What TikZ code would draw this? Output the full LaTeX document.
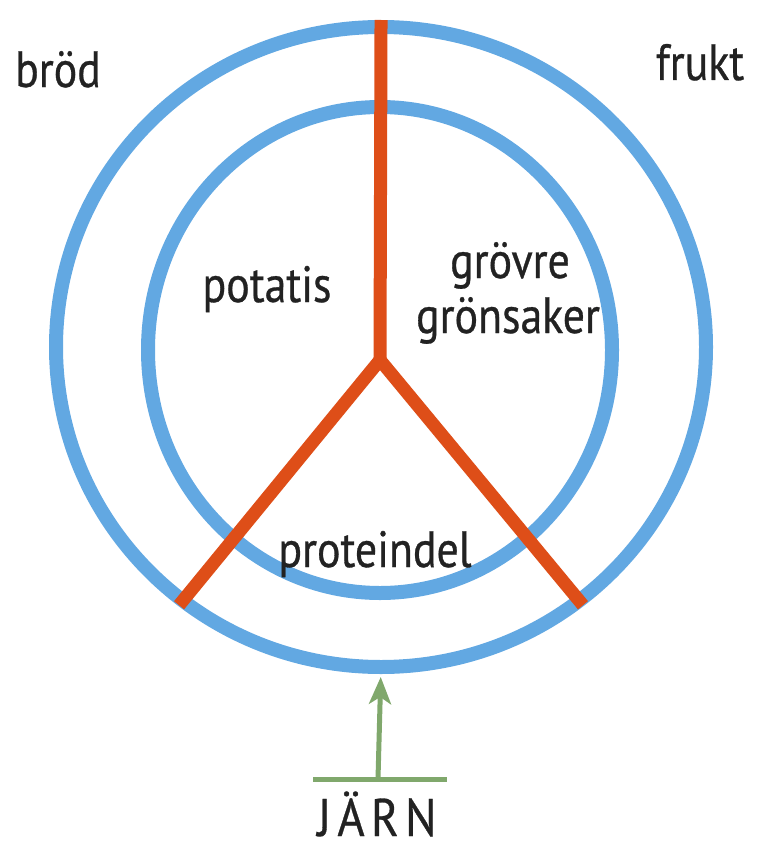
\documentclass[tikz,border=0pt]{standalone}
\usepackage{fontspec}
\setmainfont{PT Sans}[FakeStretch=0.86,FakeBold=0.6]
\newfontfamily\jarnfont{PT Sans}[FakeStretch=0.88,FakeBold=0.6,LetterSpace=12]
\usetikzlibrary{shapes.geometric,arrows.meta,positioning}
\definecolor{ringblue}{RGB}{98,168,226}
\definecolor{ironred}{RGB}{222,78,24}
\definecolor{arrowgreen}{RGB}{128,168,108}
\definecolor{inktext}{RGB}{34,34,34}

\begin{document}
\begin{tikzpicture}[
  x=1pt, y=-1pt,
  ring/.style={
    draw=ringblue, ellipse, line width=14pt, inner sep=0pt, outer sep=0pt
  },
  spoke/.style={draw=ironred, line width=13pt, line join=round},
  foodtext/.style={
    font=\fontsize{51}{60}\selectfont, text=inktext, anchor=base, inner sep=0pt
  },
  feed/.style={draw=arrowgreen, line width=5pt}
]
\useasboundingbox (0,0) rectangle (758,843);

% Rings
\node[ring, minimum width=650pt, minimum height=640pt] (outer) at (381,347) {};
\node[ring, minimum width=464pt, minimum height=486pt] (inner) at (380,350) {};

% Spokes
\coordinate (hub) at (380,360);
\draw[spoke, shorten <=-7pt] (outer.north) -- (hub);
\draw[spoke, shorten >=-6pt] (hub) -- (outer.232);
\draw[spoke, shorten >=-6pt] (hub) -- (outer.308);

% Food groups
\node[foodtext] (brod) at (58,87) {bröd};
\node[foodtext] (frukt) at (700,80) {frukt};
\node[foodtext] (potatis) at (267,302) {potatis};
\node[foodtext] (grovre) at (510,278) {grövre};
\node[foodtext] (gronsaker) at (508,333) {grönsaker};
\node[foodtext] (protein) at (375,567) {proteindel};

% Iron
\node[foodtext, font=\jarnfont\fontsize{53}{60}\selectfont] (jarn) at (377,836) {JÄRN};
\coordinate (barleft) at (313,779);
\coordinate (barright) at (447,779);
\coordinate (ironbase) at (378,779);
\draw[feed] (barleft) -- (barright);
\draw[feed, -{Stealth[length=27pt,width=22pt,inset=7pt]}, shorten >=10pt]
  (ironbase) -- (outer.south);

\end{tikzpicture}
\end{document}
